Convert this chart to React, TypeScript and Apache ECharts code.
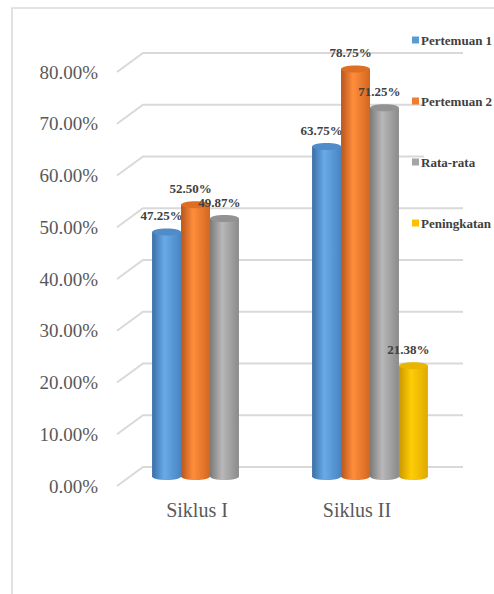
import React, { useEffect, useRef } from "react";
import * as echarts from "echarts";

const categories = ["Siklus I", "Siklus II"];
const seriesNames = ["Pertemuan 1", "Pertemuan 2", "Rata-rata", "Peningkatan"];
const pertemuan1 = [47.25, 63.75];
const pertemuan2 = [52.5, 78.75];
const rataRata = [49.87, 71.25];
const peningkatan = [null, 21.38];
const yTicks = [0, 10, 20, 30, 40, 50, 60, 70, 80];

const palettes = [
  { legend: "#5B9BD5", dark: "#3a6ea6", light: "#68abe8", right: "#4a84c0", top: "#4f8cc9" },
  { legend: "#ED7D31", dark: "#b9561a", light: "#ff8d3c", right: "#d3671f", top: "#de6f22" },
  { legend: "#A5A5A5", dark: "#7a7a7a", light: "#b8b8b8", right: "#8a8a8a", top: "#929292" },
  { legend: "#FFC000", dark: "#c99700", light: "#ffcd05", right: "#dfaa00", top: "#e9b500" },
];

const FONT = "Liberation Serif";
const DEPTH_X = 26;
const DEPTH_Y = 19;

export default function App() {
  const ref = useRef<HTMLDivElement>(null);
  useEffect(() => {
    document.body.style.margin = "0";
    const chart = echarts.init(ref.current!, null, { renderer: "svg" });
    const allValues = [pertemuan1, pertemuan2, rataRata, peningkatan];

    const barSeries = allValues.map((vals, k) => {
      const p = palettes[k];
      const data = categories
        .map((_, i) => [i, vals[i]])
        .filter((d) => d[1] !== null && d[1] !== undefined);
      return {
        type: "custom",
        name: seriesNames[k],
        xAxisIndex: 1,
        yAxisIndex: 1,
        itemStyle: { color: p.legend },
        z: 5,
        data,
        renderItem: (params: any, api: any) => {
          const ci = api.value(0);
          const v = api.value(1);
          const top = api.coord([ci, v]);
          const base = api.coord([ci, 0]);
          const band = api.size([1, 0])[0];
          const barW = band * 0.181;
          const x = top[0] - 2 * barW + k * barW;
          const cx = x + barW / 2;
          const ry = 3.5;
          const grad = new echarts.graphic.LinearGradient(0, 0, 1, 0, [
            { offset: 0, color: p.dark },
            { offset: 0.42, color: p.light },
            { offset: 1, color: p.right },
          ]);
          return {
            type: "group",
            children: [
              { type: "ellipse", shape: { cx, cy: base[1], rx: barW / 2, ry }, style: { fill: grad } },
              { type: "rect", shape: { x, y: top[1], width: barW, height: base[1] - top[1] }, style: { fill: grad } },
              { type: "ellipse", shape: { cx, cy: top[1], rx: barW / 2, ry }, style: { fill: p.top } },
              {
                type: "text",
                style: {
                  x: cx - 5,
                  y: top[1] - 16,
                  text: v.toFixed(2) + "%",
                  align: "center",
                  verticalAlign: "middle",
                  fill: "#404040",
                  fontFamily: FONT,
                  fontWeight: "bold",
                  fontSize: 13,
                },
              },
            ],
          };
        },
      };
    });

    const gridSeries = {
      type: "custom",
      silent: true,
      xAxisIndex: 0,
      yAxisIndex: 0,
      z: 1,
      data: yTicks.map((t) => [0, t]),
      renderItem: (params: any, api: any) => {
        const v = api.value(1);
        const pt = api.coord([0, v]);
        const band = api.size([1, 0])[0];
        const x0 = pt[0] - band / 2;
        const width = band * categories.length;
        return {
          type: "polyline",
          shape: {
            points: [
              [x0, pt[1]],
              [x0 + DEPTH_X, pt[1] - DEPTH_Y],
              [x0 + DEPTH_X + width, pt[1] - DEPTH_Y],
            ],
          },
          style: { stroke: "#d9d9d9", lineWidth: 2, fill: "none" },
        };
      },
    };

    chart.setOption({
      animation: false,
      backgroundColor: "#fff",
      graphic: [
        {
          type: "rect",
          shape: { x: 12, y: 8, width: 500, height: 600 },
          style: { fill: "none", stroke: "#d9d9d9", lineWidth: 1.5 },
          silent: true,
          z: 0,
        },
      ],
      legend: {
        orient: "vertical",
        left: 407,
        top: 28,
        icon: "rect",
        itemWidth: 7,
        itemHeight: 7,
        itemGap: 47,
        data: seriesNames,
        textStyle: {
          fontFamily: FONT,
          fontWeight: "bold",
          fontSize: 13,
          color: "#404040",
          lineHeight: 14,
          backgroundColor: "#fff",
          padding: [0, 0, 0, -3],
        },
      },
      grid: [
        { left: 117, width: 320, top: 72, bottom: 108 },
        { left: 117 + DEPTH_X / 2, width: 320, top: 72 - DEPTH_Y / 2, bottom: 108 + DEPTH_Y / 2 },
      ],
      xAxis: [
        {
          type: "category",
          gridIndex: 0,
          data: categories,
          axisLine: { show: false },
          axisTick: { show: false },
          axisLabel: { fontFamily: FONT, fontSize: 20, color: "#595959", margin: 14 },
        },
        { type: "category", gridIndex: 1, data: categories, show: false },
      ],
      yAxis: [
        {
          type: "value",
          gridIndex: 0,
          min: 0,
          max: 80,
          interval: 10,
          axisLine: { show: false },
          axisTick: { show: false },
          splitLine: { show: false },
          axisLabel: {
            fontFamily: FONT,
            fontSize: 19,
            color: "#595959",
            margin: 19,
            formatter: (v: number) => v.toFixed(2) + "%",
          },
        },
        { type: "value", gridIndex: 1, min: 0, max: 80, interval: 10, show: false, splitLine: { show: false } },
      ],
      series: [gridSeries, ...barSeries],
    });
    return () => chart.dispose();
  }, []);
  return <div ref={ref} style={{ position: "fixed", left: 0, top: 0, width: 494, height: 594 }} />;
}
